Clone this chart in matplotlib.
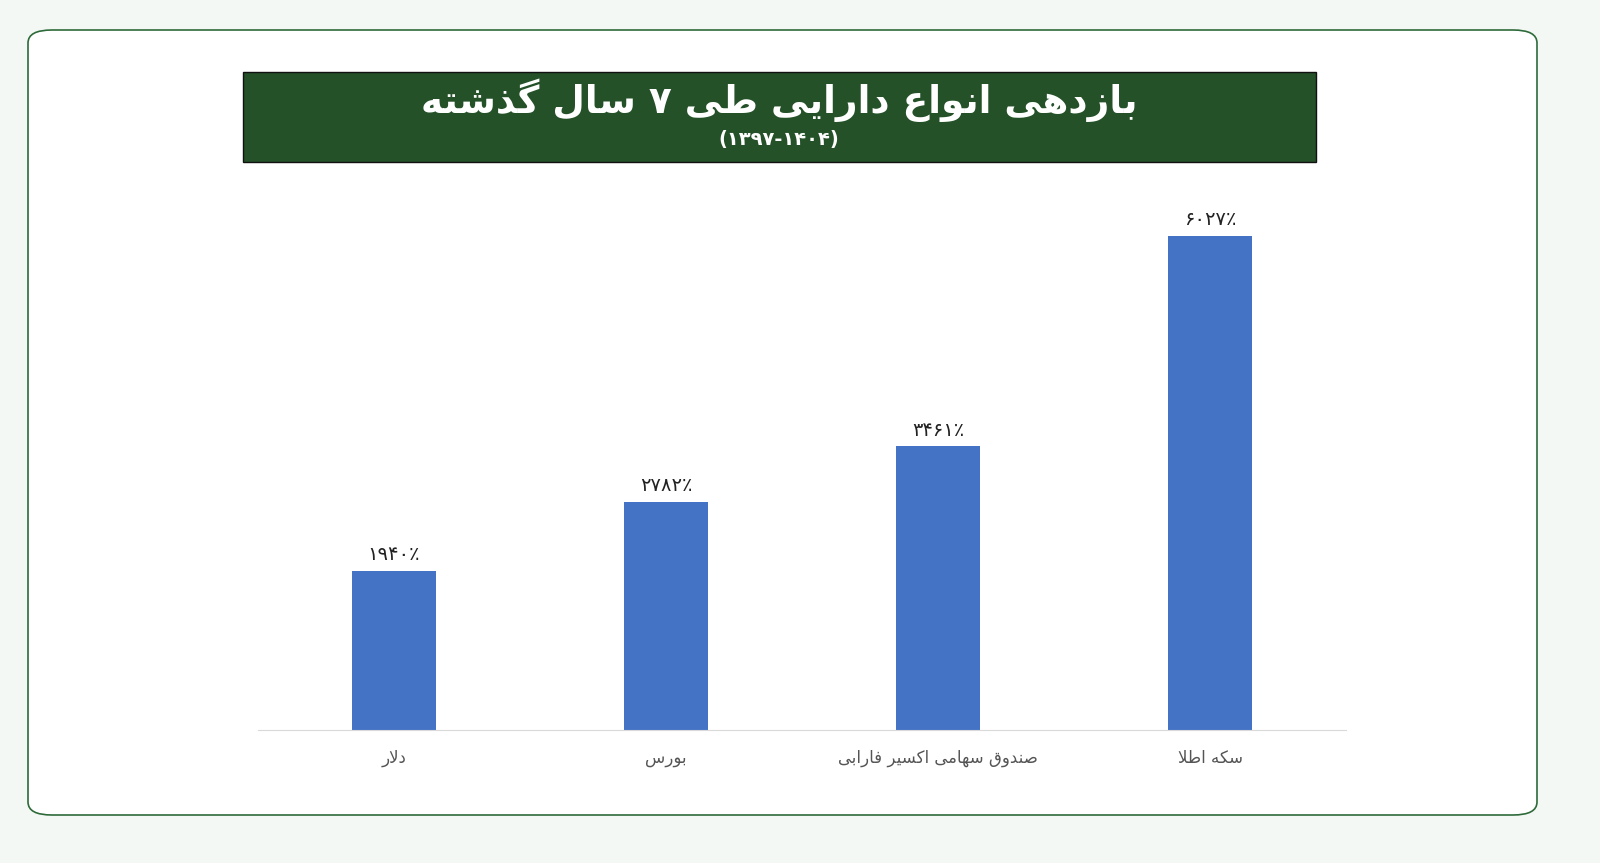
import matplotlib
matplotlib.use("Agg")
import matplotlib.pyplot as plt
from matplotlib.patches import FancyBboxPatch, Rectangle

categories = ["دلار", "بورس", "صندوق سهامی اکسیر فارابی", "سکه اطلا"]
values = [1940, 2782, 3461, 6027]
labels = ["۱۹۴۰٪", "۲۷۸۲٪", "۳۴۶۱٪", "۶۰۲۷٪"]
title = "بازدهی انواع دارایی طی ۷ سال گذشته"
subtitle = "(۱۳۹۷-۱۴۰۴)"

FORMS = {
    'ا': (0xFE8D, 0xFE8E, None, None), 'ب': (0xFE8F, 0xFE90, 0xFE91, 0xFE92),
    'ت': (0xFE95, 0xFE96, 0xFE97, 0xFE98), 'د': (0xFEA9, 0xFEAA, None, None),
    'ذ': (0xFEAB, 0xFEAC, None, None), 'ر': (0xFEAD, 0xFEAE, None, None),
    'ز': (0xFEAF, 0xFEB0, None, None), 'س': (0xFEB1, 0xFEB2, 0xFEB3, 0xFEB4),
    'ش': (0xFEB5, 0xFEB6, 0xFEB7, 0xFEB8), 'ص': (0xFEB9, 0xFEBA, 0xFEBB, 0xFEBC),
    'ط': (0xFEC1, 0xFEC2, 0xFEC3, 0xFEC4), 'ع': (0xFEC9, 0xFECA, 0xFECB, 0xFECC),
    'ف': (0xFED1, 0xFED2, 0xFED3, 0xFED4), 'ق': (0xFED5, 0xFED6, 0xFED7, 0xFED8),
    'ل': (0xFEDD, 0xFEDE, 0xFEDF, 0xFEE0), 'م': (0xFEE1, 0xFEE2, 0xFEE3, 0xFEE4),
    'ن': (0xFEE5, 0xFEE6, 0xFEE7, 0xFEE8), 'ه': (0xFEE9, 0xFEEA, 0xFEEB, 0xFEEC),
    'و': (0xFEED, 0xFEEE, None, None), 'ی': (0xFBFC, 0xFBFD, 0xFBFE, 0xFBFF),
    'ک': (0xFB8E, 0xFB8F, 0xFB90, 0xFB91), 'گ': (0xFB92, 0xFB93, 0xFB94, 0xFB95),
    'LA': (0xFEFB, 0xFEFC, None, None),
}

def shape(s):
    chars = []
    i = 0
    while i < len(s):
        if s[i] == 'ل' and i + 1 < len(s) and s[i + 1] == 'ا':
            chars.append('LA'); i += 2
        else:
            chars.append(s[i]); i += 1
    out = []
    for k, c in enumerate(chars):
        if c not in FORMS:
            out.append(c); continue
        f = FORMS[c]
        prev = chars[k - 1] if k > 0 else None
        nxt = chars[k + 1] if k + 1 < len(chars) else None
        jp = prev in FORMS and FORMS[prev][2] is not None
        jn = nxt in FORMS and f[2] is not None
        if jp and jn: cp = f[3]
        elif jp: cp = f[1]
        elif jn: cp = f[2]
        else: cp = f[0]
        out.append(chr(cp))
    return ''.join(out)[::-1]

plt.rcParams['font.family'] = ['DejaVu Sans']
fig = plt.figure(figsize=(16, 8.63), dpi=100)
W, H = 1600, 863

def fx(x): return x / W
def fy(y): return 1 - y / H

card = FancyBboxPatch((fx(28), fy(815)), fx(1537 - 28), (815 - 30) / H,
                      boxstyle="round,pad=0,rounding_size=0.015", transform=fig.transFigure,
                      facecolor="white", edgecolor="#2e6b3a", linewidth=1.2, zorder=-10)
fig.patches.append(card)
fig.patches.append(Rectangle((fx(243), fy(162)), fx(1316 - 243), 90 / H,
                             transform=fig.transFigure, facecolor="#245128",
                             edgecolor="#111111", linewidth=1, zorder=-9))
fig.text(fx(779), fy(100), shape(title), color="white", fontsize=27, fontweight="bold",
         ha="center", va="center")
fig.text(fx(779), fy(139), subtitle, color="white", fontsize=14, fontweight="bold",
         ha="center", va="center")

ax = fig.add_axes([fx(258), fy(730), fx(1346 - 258), (730 - 200) / H])
ax.set_zorder(5)
x = list(range(len(values)))
ax.bar(x, values, width=0.31, color="#4472C4")
ax.set_xlim(-0.5, 3.5)
ax.set_ylim(0, 6027 * 530 / 494)
for xi, v, l in zip(x, values, labels):
    ax.text(xi, v + 80, l, ha="center", va="bottom", fontsize=14, color="#222222")
ax.set_xticks(x)
ax.set_xticklabels([shape(c) for c in categories], fontsize=12, color="#555555")
ax.tick_params(axis='x', length=0, pad=14)
ax.set_yticks([])
for sp in ['top', 'left', 'right']:
    ax.spines[sp].set_visible(False)
ax.spines['bottom'].set_color("#d9d9d9")
ax.patch.set_alpha(0)
fig.savefig("out.png", dpi=100, facecolor="#f4f8f4")
